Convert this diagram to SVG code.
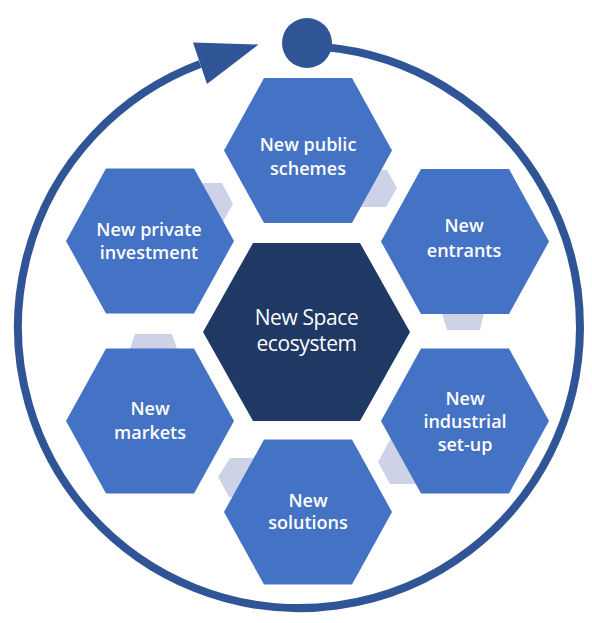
<svg xmlns="http://www.w3.org/2000/svg" width="592" height="623" viewBox="0 0 592 623">
<style>
.hex{fill:#4472C4}
.core{fill:#1F3864}
.gap{fill:#CDD2E7}
.ring{fill:none;stroke:#2F5597;stroke-width:8}
.lbl{font-family:"Open Sans","Noto Sans",sans-serif;font-weight:600;font-size:18px;fill:#FFFFFF;text-anchor:middle}
.clbl{font-family:"Open Sans","Noto Sans",sans-serif;font-weight:500;font-size:21px;letter-spacing:-0.4px;fill:#FFFFFF;text-anchor:middle}
</style>
<rect width="592" height="623" fill="#FFFFFF"/>
<g id="cycle-arrow">
<path class="ring" d="M 323.5 47.1 A 281 281 0 1 1 200.1 64.0"/>
<polygon points="193,42.5 258.5,44.5 207,84" fill="#2F5597"/>
<circle cx="307" cy="43" r="25" fill="#2F5597"/>
</g>
<g id="connectors">
<polygon class="gap" points="190,183 222,183 233,204 221,225 190,225"/>
<polygon class="gap" points="375,170 387,170 397,188 386,207 355,207"/>
<polygon class="gap" points="438,300 487,300 480,330 447,330"/>
<polygon class="gap" points="392,436 378,462 390,484 425,484 425,436"/>
<polygon class="gap" points="230,458 262,458 262,497 229,497 218,477"/>
<polygon class="gap" points="135,334 172,334 178,352 129,352"/>
</g>
<g id="node-public-schemes">
<polygon class="hex" points="224,150.5 264,78 352,78 392,150.5 352,223 264,223"/>
<text class="lbl" x="308" y="151">New public</text>
<text class="lbl" x="308" y="175">schemes</text>
</g>
<g id="node-entrants">
<polygon class="hex" points="381,241.5 421,169 509,169 549,241.5 509,314 421,314"/>
<text class="lbl" x="464" y="232">New</text>
<text class="lbl" x="464" y="257">entrants</text>
</g>
<g id="node-industrial-setup">
<polygon class="hex" points="381,421 421,348.5 509,348.5 549,421 509,493.5 421,493.5"/>
<text class="lbl" x="465" y="405">New</text>
<text class="lbl" x="465" y="428">industrial</text>
<text class="lbl" x="465" y="451">set-up</text>
</g>
<g id="node-solutions">
<polygon class="hex" points="224,512 264,439.5 352,439.5 392,512 352,584.5 264,584.5"/>
<text class="lbl" x="308" y="507">New</text>
<text class="lbl" x="308" y="529">solutions</text>
</g>
<g id="node-markets">
<polygon class="hex" points="66,421 106,348.5 194,348.5 234,421 194,493.5 106,493.5"/>
<text class="lbl" x="150" y="415">New</text>
<text class="lbl" x="150" y="439">markets</text>
</g>
<g id="node-private-investment">
<polygon class="hex" points="66,241 106,168.5 194,168.5 234,241 194,313.5 106,313.5"/>
<text class="lbl" x="149" y="236">New private</text>
<text class="lbl" x="149" y="259">investment</text>
</g>
<g id="node-new-space-ecosystem">
<polygon class="core" points="203,332 253,243 360,243 410,332 360,421 253,421"/>
<text class="clbl" x="306.5" y="325">New Space</text>
<text class="clbl" x="306.5" y="351">ecosystem</text>
</g>
</svg>
